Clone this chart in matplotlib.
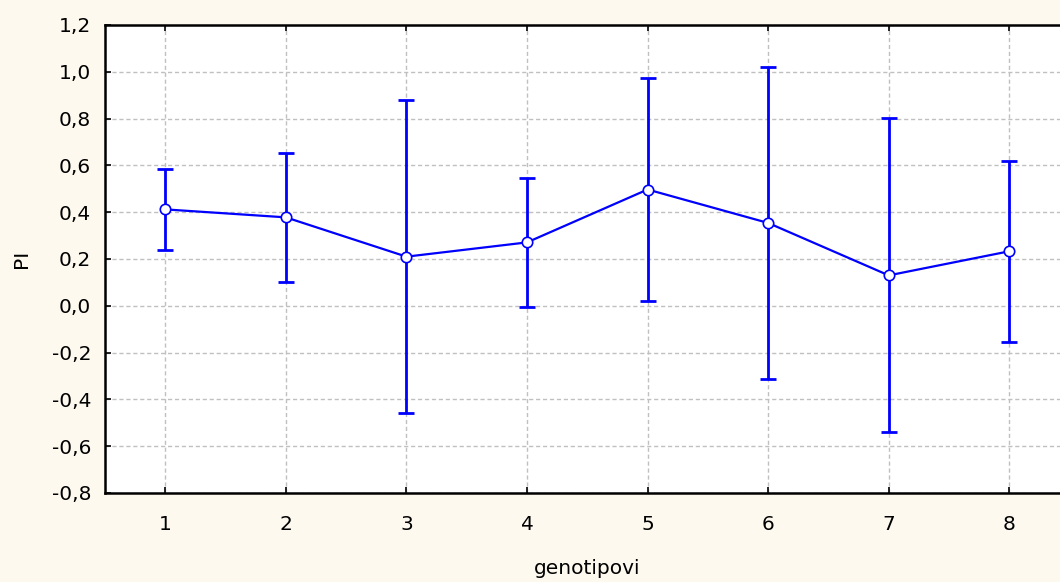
import matplotlib
matplotlib.use("Agg")
import matplotlib.pyplot as plt
import numpy as np

# data
genotypes = [1, 2, 3, 4, 5, 6, 7, 8]
pi_mean = [0.412, 0.378, 0.210, 0.271, 0.497, 0.354, 0.130, 0.233]
pi_err = [0.173, 0.275, 0.670, 0.274, 0.475, 0.668, 0.671, 0.386]
y_ticks = [-0.8, -0.6, -0.4, -0.2, 0.0, 0.2, 0.4, 0.6, 0.8, 1.0, 1.2]

plt.rcParams['font.family'] = ['DejaVu Sans']
plt.rcParams['font.size'] = 14.5

bg = '#FDF9EE'
fig = plt.figure(figsize=(10.6, 5.82), dpi=100, facecolor=bg)
# axes run past the right edge of the figure, as in the reference
ax = fig.add_axes([105/1060, 89/582, 964.6/1060, 468/582])
ax.set_facecolor('white')

ax.errorbar(genotypes, pi_mean, yerr=pi_err, fmt='none', ecolor='#0000FF',
            elinewidth=2, capsize=6, capthick=2, zorder=3)
ax.plot(genotypes, pi_mean, '-o', color='#0000FF', lw=1.6,
        markersize=7.5, markerfacecolor='white', markeredgecolor='#0000FF',
        markeredgewidth=1.2, zorder=4)

ax.set_xlim(0.5, 8.5)
ax.set_ylim(-0.8, 1.2)
ax.set_xticks(genotypes)
ax.set_yticks(y_ticks)
ax.set_yticklabels([('%.1f' % v).replace('.', ',') for v in y_ticks])

ax.grid(True, color='#C0C0C0', linestyle=(0, (3, 2)), linewidth=1)
ax.set_axisbelow(True)

for side in ['left', 'bottom', 'top']:
    ax.spines[side].set_linewidth(1.8)
    ax.spines[side].set_color('black')
ax.spines['right'].set_visible(False)

ax.tick_params(axis='x', direction='in', length=4, width=1.2, pad=16, top=True)
ax.tick_params(axis='y', direction='in', length=4, width=1.2, pad=10)

ax.set_xlabel('genotipovi', labelpad=18)
ax.set_ylabel('PI', labelpad=15)

fig.savefig('out.png', dpi=100, facecolor=bg)
